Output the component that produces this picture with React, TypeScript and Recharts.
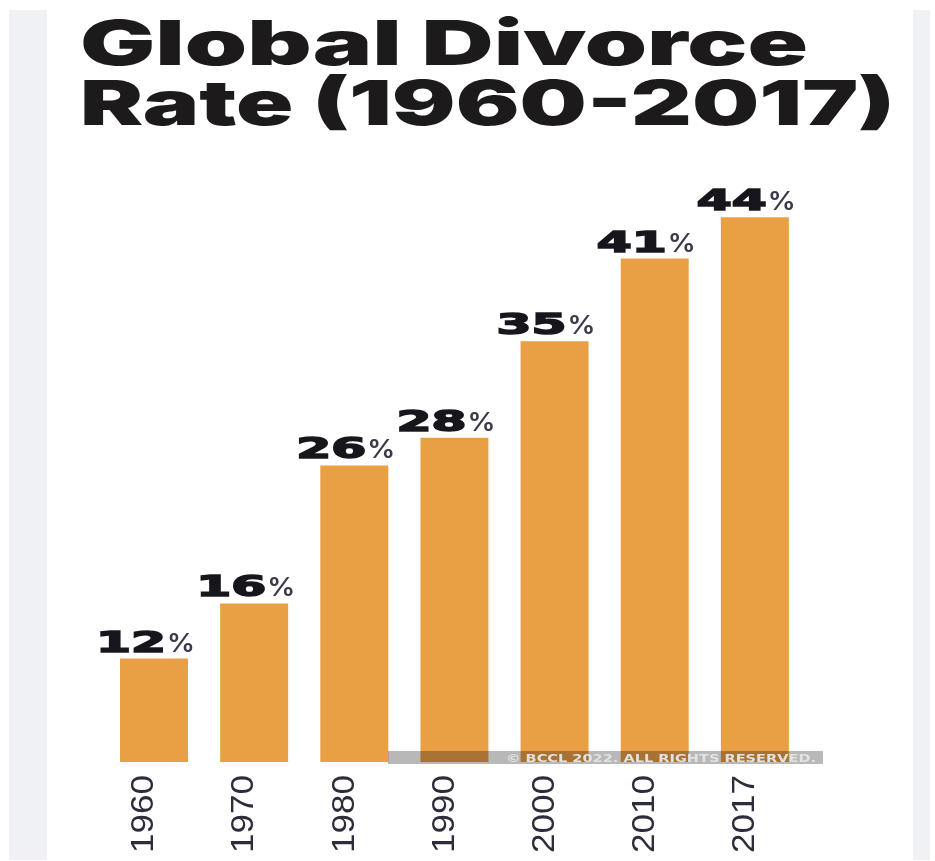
import { BarChart, Bar, XAxis, YAxis, LabelList } from 'recharts'

const years = ['1960', '1970', '1980', '1990', '2000', '2010', '2017']
const rates = [12, 16, 26, 28, 35, 41, 44]

const data = years.map((year, i) => ({ year, rate: rates[i] }))

const ORANGE = '#e9a045'
const INK = '#17161d'

function YearTick(props: any) {
  const { x, y, payload } = props
  return (
    <text
      transform={`translate(${x - 12}, ${y}) rotate(-90)`}
      textAnchor="end"
      dy="0.36em"
      fontFamily="'Liberation Sans', Arial, sans-serif"
      fontSize={31}
      fill="#2c2c3a"
      textLength={78}
      lengthAdjust="spacingAndGlyphs"
    >
      {payload.value}
    </text>
  )
}

function RateLabel(props: any) {
  const { x, y, value } = props
  const digits = String(value)
  const left = x - 24
  const numW = digits.length * 35
  const base = y - 7
  return (
    <text y={base}>
      <tspan
        x={left}
        fontFamily="'DejaVu Sans', sans-serif"
        fontWeight={700}
        fontSize={29}
        fill={INK}
        stroke={INK}
        strokeWidth={1.6}
        textLength={numW}
        lengthAdjust="spacingAndGlyphs"
      >
        {digits}
      </tspan>
      <tspan
        x={left + numW + 1}
        fontFamily="Inter, sans-serif"
        fontWeight={600}
        fontSize={26}
        fill="#3a3a4a"
        textLength={28}
        lengthAdjust="spacingAndGlyphs"
      >
        %
      </tspan>
    </text>
  )
}

export default function App() {
  return (
    <div style={{ position: 'absolute', left: 0, top: 0, width: 935, height: 861, background: '#fff', overflow: 'hidden' }}>
      {/* grey side strips of the page */}
      <div style={{ position: 'absolute', left: 9, top: 10, width: 38, height: 850, background: '#f0f1f4' }} />
      <div style={{ position: 'absolute', left: 913, top: 10, width: 17, height: 850, background: '#f0f1f4' }} />

      <div style={{ position: 'absolute', left: 0, top: 0 }}>
        <BarChart width={935} height={861} data={data} margin={{ top: 162, right: 130, bottom: 9, left: 104 }}>
          <XAxis
            dataKey="year"
            axisLine={false}
            tickLine={false}
            tickSize={0}
            tickMargin={13}
            height={90}
            interval={0}
            tick={<YearTick />}
          />
          <YAxis hide type="number" domain={[4.5, 48]} allowDataOverflow />
          <Bar dataKey="rate" fill={ORANGE} barSize={68} isAnimationActive={false}>
            <LabelList dataKey="rate" content={<RateLabel />} />
          </Bar>
        </BarChart>
      </div>

      <svg
        width={935}
        height={861}
        style={{ position: 'absolute', left: 0, top: 0, pointerEvents: 'none' }}
      >
        {/* two-line title */}
        <text fontFamily="Inter, sans-serif" fontWeight={900} fontSize={62} fill="#1c1a1b">
          <tspan x={80} y={65} textLength={728} lengthAdjust="spacingAndGlyphs">
            Global Divorce
          </tspan>
          <tspan x={80} y={125} textLength={815} lengthAdjust="spacingAndGlyphs">
            Rate (1960-2017)
          </tspan>
        </text>

        {/* watermark strip */}
        <rect x={388} y={751} width={435} height={13} fill="#b8b8b8" style={{ mixBlendMode: 'multiply' }} />
        <text x={506} y={761.5} fontFamily="'DejaVu Sans', sans-serif" fontWeight={700} fontSize={10.5} fill="#e2e2e2" textLength={310} lengthAdjust="spacingAndGlyphs">
          © BCCL 2022. ALL RIGHTS RESERVED.
        </text>
      </svg>
    </div>
  )
}
